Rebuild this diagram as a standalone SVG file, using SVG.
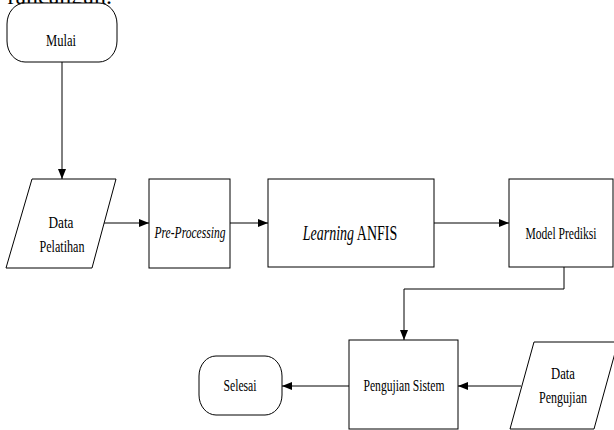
<svg xmlns="http://www.w3.org/2000/svg" width="614" height="430" viewBox="0 0 614 430">
<style>
.s{fill:#fff;stroke:#000;stroke-width:1}
.t{fill:#000;text-anchor:middle}
.c{fill:none;stroke:#000;stroke-width:1}
</style>
<defs>
<marker id="ah" markerUnits="userSpaceOnUse" markerWidth="10" markerHeight="8" refX="10" refY="4" orient="auto">
<path d="M0,0 L10,4 L0,8 z" fill="#000"/>
</marker>
</defs>
<rect width="614" height="430" fill="#fff"/>
<g font-family="'Liberation Serif','Times New Roman',serif" font-size="17">
<text x="112" y="4" font-size="24" text-anchor="end">rancangan.</text>
<g id="connectors">
<path class="c" d="M62,62 V179" marker-end="url(#ah)"/>
<path class="c" d="M104,223 H149" marker-end="url(#ah)"/>
<path class="c" d="M230,223 H268" marker-end="url(#ah)"/>
<path class="c" d="M434,223 H509" marker-end="url(#ah)"/>
<path class="c" d="M564,267 V289 H404 V340" marker-end="url(#ah)"/>
<path class="c" d="M521,386 H458" marker-end="url(#ah)"/>
<path class="c" d="M349,386 H282" marker-end="url(#ah)"/>
</g>
<g id="mulai">
<rect class="s" x="7" y="3" width="110" height="59" rx="18" ry="21"/>
<text class="t" x="61" y="46" textLength="30" lengthAdjust="spacingAndGlyphs">Mulai</text>
</g>
<g id="data-pelatihan">
<polygon class="s" points="32,179 116,179 92,268 6,268"/>
<text class="t" x="61" y="228" textLength="25" lengthAdjust="spacingAndGlyphs">Data</text>
<text class="t" x="62" y="252" textLength="45" lengthAdjust="spacingAndGlyphs">Pelatihan</text>
</g>
<g id="pre-processing">
<rect class="s" x="149" y="179" width="81" height="89"/>
<text class="t" x="190" y="238" font-style="italic" textLength="71" lengthAdjust="spacingAndGlyphs">Pre-Processing</text>
</g>
<g id="learning-anfis">
<rect class="s" x="268" y="179" width="166" height="88"/>
<text class="t" transform="translate(350,240) scale(0.7,1)" x="0" y="0" font-size="20"><tspan font-style="italic">Learning</tspan> ANFIS</text>
</g>
<g id="model-prediksi">
<rect class="s" x="509" y="179" width="104" height="88"/>
<text class="t" x="561" y="239" textLength="71" lengthAdjust="spacingAndGlyphs">Model Prediksi</text>
</g>
<g id="pengujian-sistem">
<rect class="s" x="349" y="340" width="109" height="89"/>
<text class="t" x="404" y="391" textLength="81" lengthAdjust="spacingAndGlyphs">Pengujian Sistem</text>
</g>
<g id="data-pengujian">
<polygon class="s" points="534,342 618,342 594,429 510,429"/>
<text class="t" x="563" y="379" textLength="24" lengthAdjust="spacingAndGlyphs">Data</text>
<text class="t" x="563" y="403" textLength="48" lengthAdjust="spacingAndGlyphs">Pengujian</text>
</g>
<g id="selesai">
<rect class="s" x="199" y="356" width="83" height="59" rx="17" ry="20"/>
<text class="t" x="240" y="391" textLength="33" lengthAdjust="spacingAndGlyphs">Selesai</text>
</g>
</g>
</svg>
